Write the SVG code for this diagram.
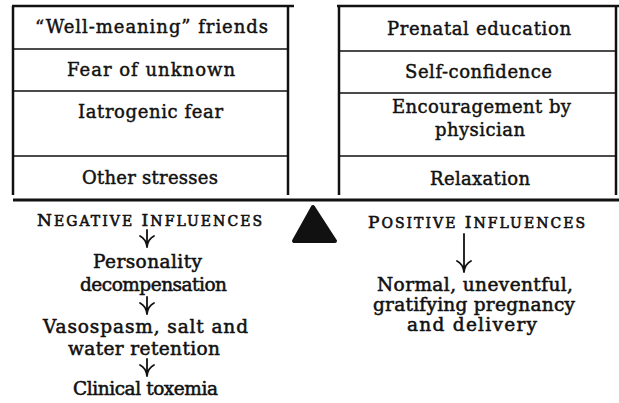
<svg xmlns="http://www.w3.org/2000/svg" width="619" height="403" viewBox="0 0 619 403">
<style>
text{font-family:"DejaVu Serif","Liberation Serif",serif;fill:#111;stroke:#111;stroke-width:0.45;text-anchor:middle}
.box{font-size:18px}
.body{font-size:18.5px;stroke-width:0.55}
.sc{font-size:17px;stroke-width:0.6}
.sm{font-size:14px}
.frame{stroke:#111;fill:none}
.conn{stroke:#111;fill:none;stroke-width:1.8;stroke-linecap:round}
</style>
<g id="left-box">
<path class="frame" stroke-width="2.5" d="M12 6H294M13 6V195M288 6V195"/>
<path class="frame" stroke-width="1.3" d="M13 49H288M13 91H288M13 156H288"/>
<text class="box" x="151.5" y="33" textLength="233">“Well-meaning” friends</text>
<text class="box" x="151" y="76" textLength="168">Fear of unknown</text>
<text class="box" x="150.5" y="118" textLength="145">Iatrogenic fear</text>
<text class="box" x="150" y="184" textLength="136">Other stresses</text>
</g>
<g id="right-box">
<path class="frame" stroke-width="2.5" d="M337 6H619M339 6V195M616 6V195"/>
<path class="frame" stroke-width="1.3" d="M339 51H616M339 93H616M339 156H616"/>
<text class="box" x="479" y="35" textLength="184">Prenatal education</text>
<text class="box" x="478.5" y="78" textLength="147">Self-confidence</text>
<text class="box" x="481.5" y="113" textLength="179">Encouragement by</text>
<text class="box" x="480" y="136" textLength="90">physician</text>
<text class="box" x="480" y="185" textLength="100">Relaxation</text>
</g>
<g id="beam">
<path class="frame" stroke-width="3" d="M13 200H619"/>
</g>
<g id="fulcrum">
<polygon points="313,207 294,241 335,241" fill="#111" stroke="#111" stroke-width="4" stroke-linejoin="round"/>
</g>
<g id="negative-influences">
<text class="sc" x="149.5" y="226" textLength="225">N<tspan class="sm">EGATIVE</tspan> I<tspan class="sm">NFLUENCES</tspan></text>
</g>
<g id="personality-decompensation">
<text class="body" x="147.5" y="268" textLength="109">Personality</text>
<text class="body" x="153.5" y="291" textLength="147">decompensation</text>
</g>
<g id="vasospasm">
<text class="body" x="145.5" y="333" textLength="205">Vasospasm, salt and</text>
<text class="body" x="144" y="355" textLength="152">water retention</text>
</g>
<g id="clinical-toxemia">
<text class="body" x="145.5" y="395" textLength="145">Clinical toxemia</text>
</g>
<g id="positive-influences">
<text class="sc" x="476.5" y="228" textLength="217">P<tspan class="sm">OSITIVE</tspan> I<tspan class="sm">NFLUENCES</tspan></text>
</g>
<g id="normal-pregnancy">
<text class="body" x="475" y="291" textLength="196">Normal, uneventful,</text>
<text class="body" x="474" y="311" textLength="202">gratifying pregnancy</text>
<text class="body" x="472" y="331" textLength="130">and delivery</text>
</g>
<g id="connectors">
<path class="conn" d="M147 230V247M140 236Q146 239 147 247M154 236Q148 239 147 247"/>
<path class="conn" d="M147 297V314M140 303Q146 306 147 314M154 303Q148 306 147 314"/>
<path class="conn" d="M147 359V376M140 365Q146 368 147 376M154 365Q148 368 147 376"/>
<path class="conn" d="M464 234V272M457 261Q463 264 464 272M471 261Q465 264 464 272"/>
</g>
</svg>
